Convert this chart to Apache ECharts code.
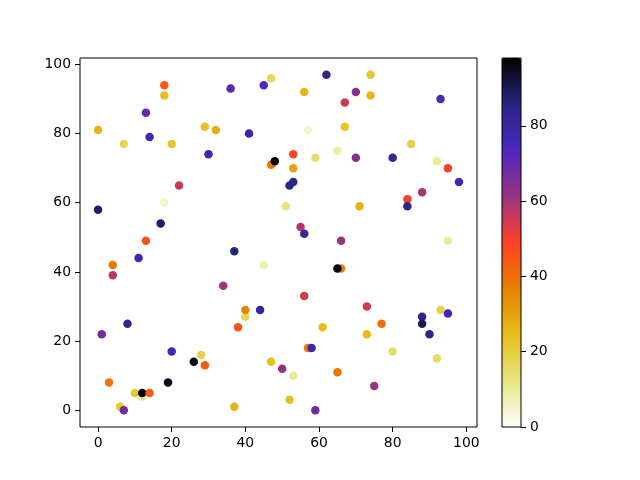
<!DOCTYPE html>
<html><head><meta charset="utf-8">
<script src="https://cdn.jsdelivr.net/npm/echarts@6/dist/echarts.min.js"></script>
<style>html,body{margin:0;padding:0;background:#fff}#c{width:640px;height:480px}</style>
</head><body><div id="c"></div>
<script>
const xs = [18,18,13,0,7,14,20,29,32,36,45,47,41,30,47,48,22,18,0,17,13,
  62,74,56,70,74,67,93,57,67,85,53,59,65,70,80,92,95,98,53,52,53,88,84,84,51,71,55,56,66,95,
  11,4,4,37,45,34,40,40,44,38,8,1,20,28,26,29,47,50,3,19,10,12,12,14,6,7,37,
  66,65,56,73,77,61,73,88,88,90,93,95,57,58,80,92,53,65,75,52,59];
const ys = [94,91,86,81,77,79,77,82,81,93,94,96,80,74,71,72,65,60,58,54,49,
  97,97,92,92,91,89,90,81,82,77,74,73,75,73,73,72,70,66,70,65,66,63,61,59,59,59,53,51,49,49,
  44,42,39,46,42,36,27,29,29,24,25,22,17,16,14,13,14,12,8,8,5,4,5,5,1,0,1,
  41,41,33,30,25,24,22,27,25,22,29,28,18,18,17,15,10,11,7,3,0];
const cs = [45,24,70,27,17,76,22,23,28,72,72,17,78,77,38,97,56,5,88,88,45,
  84,22,26,64,26,55,74,5,23,19,48,15,9,64,82,10,50,76,30,84,84,60,50,84,13,27,58,80,61,10,
  77,38,57,86,8,60,17,36,80,45,82,68,77,19,95,44,24,62,38,95,22,12,97,44,22,68,27,
  37,97,55,55,40,24,25,84,90,84,19,77,38,78,15,15,10,38,61,24,68];
const xTicks = [0,20,40,60,80,100];
const yTicks = [0,20,40,60,80,100];
const cTicks = [0,20,40,60,80];
const cMin = 0, cMax = 98;

const data = xs.map((x,i)=>[x, ys[i], cs[i]]);
const font = 'DejaVu Sans';
const fs = 13.9;
const chart = echarts.init(document.getElementById('c'), null, {renderer:'canvas'});
chart.setOption({
  animation:false,
  backgroundColor:'#fff',
  textStyle:{fontFamily:font},
  grid:[
    {left:80, top:58, width:397, height:369, show:true, borderColor:'#000', borderWidth:1, backgroundColor:'transparent'},
    {left:502, top:58, width:19, height:369, show:true, borderColor:'#000', borderWidth:1, backgroundColor:'transparent', z:10}
  ],
  xAxis:[
    {type:'value', gridIndex:0, min:-4.9, max:102.9, splitLine:{show:false},
     axisLine:{show:false, onZero:false},
     axisTick:{show:true, inside:false, length:5, lineStyle:{color:'#000'}, customValues:xTicks},
     axisLabel:{color:'#000', fontSize:fs, fontFamily:font, margin:9, customValues:xTicks}},
    {type:'value', gridIndex:1, min:0, max:1, show:false, axisLine:{onZero:false}}
  ],
  yAxis:[
    {type:'value', gridIndex:0, min:-4.85, max:101.85, splitLine:{show:false},
     axisLine:{show:false, onZero:false},
     axisTick:{show:true, inside:false, length:5, lineStyle:{color:'#000'}, customValues:yTicks},
     axisLabel:{color:'#000', fontSize:fs, fontFamily:font, margin:9, customValues:yTicks}},
    {type:'value', gridIndex:1, min:cMin, max:cMax, position:'right', z:10, splitLine:{show:false},
     axisLine:{show:false, onZero:false},
     axisTick:{show:true, inside:false, length:5, lineStyle:{color:'#000'}, customValues:cTicks},
     axisLabel:{color:'#000', fontSize:fs, fontFamily:font, margin:9, customValues:cTicks}}
  ],
  visualMap:{
    type:'continuous', seriesIndex:0, dimension:2, min:cMin, max:cMax,
    left:502, top:58, itemWidth:19, itemHeight:369, padding:0,
    calculable:false, realtime:false, hoverLink:false,
    inRange:{color:['#ffffff','#e6e680','#e6bf1a','#e68000','#ff4026','#993380','#4d26bf','#262680','#000000']}
  },
  series:[
    {type:'scatter', xAxisIndex:0, yAxisIndex:0, symbolSize:8.5, data:data, itemStyle:{opacity:1}},
    {type:'scatter', xAxisIndex:1, yAxisIndex:1, data:[]}
  ]
});
</script></body></html>
